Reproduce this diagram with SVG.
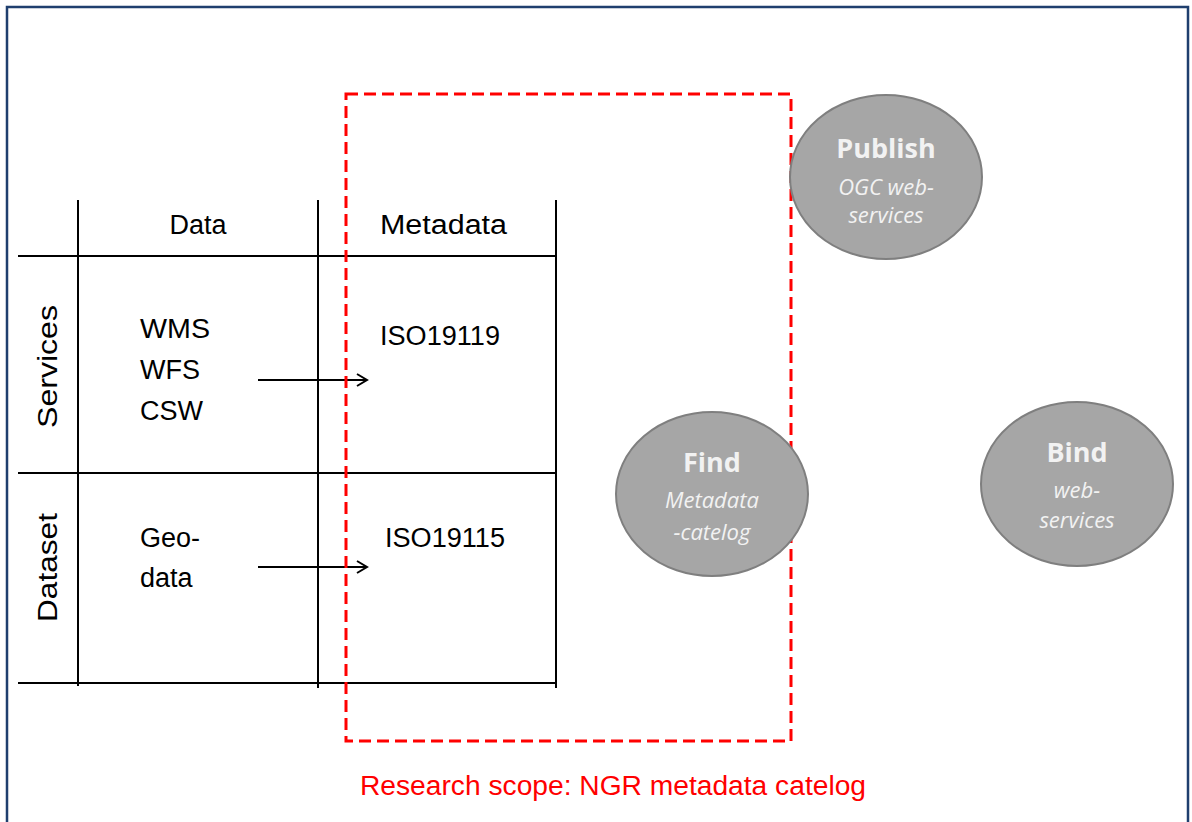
<svg xmlns="http://www.w3.org/2000/svg" width="1192" height="822" viewBox="0 0 1192 822">
<style>
.t{font-family:"Liberation Sans",Arial,sans-serif;font-size:27px;fill:#000}
.g line{stroke:#000;stroke-width:2}
.el{fill:#a6a6a6;stroke:#7f7f7f;stroke-width:2}
.h{font-family:"Open Sans","Liberation Sans",sans-serif;font-weight:bold;font-size:27px;fill:#f2f2f2;text-anchor:middle}
.s{font-family:"Open Sans","Liberation Sans",sans-serif;font-style:italic;font-size:22px;fill:#f2f2f2;text-anchor:middle}
</style>
<defs>
<marker id="ar" markerWidth="14" markerHeight="14" refX="12" refY="7" orient="auto" markerUnits="userSpaceOnUse">
<path d="M2,1 L12,7 L2,13" fill="none" stroke="#000" stroke-width="2"/>
</marker>
</defs>
<rect x="0" y="0" width="1192" height="822" fill="#fff"/>
<rect x="7" y="7" width="1181" height="830" fill="none" stroke="#1f3f6e" stroke-width="2.5"/>
<g id="table" class="g">
<line x1="78" y1="200" x2="78" y2="686"/>
<line x1="318" y1="200" x2="318" y2="688"/>
<line x1="556" y1="200" x2="556" y2="688"/>
<line x1="18" y1="256" x2="556" y2="256"/>
<line x1="18" y1="473" x2="556" y2="473"/>
<line x1="18" y1="683" x2="556" y2="683"/>
</g>
<g id="labels">
<text class="t" x="198" y="234" text-anchor="middle">Data</text>
<text class="t" x="380" y="234" textLength="127" lengthAdjust="spacingAndGlyphs">Metadata</text>
<text class="t" transform="translate(57,428) rotate(-90)" textLength="123" lengthAdjust="spacingAndGlyphs">Services</text>
<text class="t" transform="translate(57,622) rotate(-90)" textLength="109" lengthAdjust="spacingAndGlyphs">Dataset</text>
<text class="t" x="140" y="338" textLength="70" lengthAdjust="spacingAndGlyphs">WMS</text>
<text class="t" x="140" y="379">WFS</text>
<text class="t" x="140" y="420">CSW</text>
<text class="t" x="380" y="345" textLength="120" lengthAdjust="spacingAndGlyphs">ISO19119</text>
<text class="t" x="140" y="547">Geo-</text>
<text class="t" x="140" y="587">data</text>
<text class="t" x="385" y="547" textLength="120" lengthAdjust="spacingAndGlyphs">ISO19115</text>
</g>
<g id="connectors">
<line x1="258" y1="380" x2="367" y2="380" stroke="#000" stroke-width="2" marker-end="url(#ar)"/>
<line x1="258" y1="567" x2="367" y2="567" stroke="#000" stroke-width="2" marker-end="url(#ar)"/>
</g>
<g id="scope">
<rect x="346" y="94" width="445" height="647" fill="none" stroke="#ff0000" stroke-width="3" stroke-dasharray="12,6"/>
<text x="360" y="795" font-family="Liberation Sans,Arial,sans-serif" font-size="27" fill="#ff0000" textLength="506" lengthAdjust="spacingAndGlyphs">Research scope: NGR metadata catelog</text>
</g>
<g id="publish">
<ellipse class="el" cx="886" cy="177" rx="96" ry="82"/>
<text class="h" x="886" y="158">Publish</text>
<text class="s" x="886" y="195">OGC web-</text>
<text class="s" x="886" y="223">services</text>
</g>
<g id="find">
<ellipse class="el" cx="712" cy="494" rx="96" ry="82"/>
<text class="h" x="712" y="472">Find</text>
<text class="s" x="712" y="508">Metadata</text>
<text class="s" x="712" y="540">-catelog</text>
</g>
<g id="bind">
<ellipse class="el" cx="1077" cy="484" rx="96" ry="82"/>
<text class="h" x="1077" y="462">Bind</text>
<text class="s" x="1077" y="498">web-</text>
<text class="s" x="1077" y="528">services</text>
</g>
</svg>
